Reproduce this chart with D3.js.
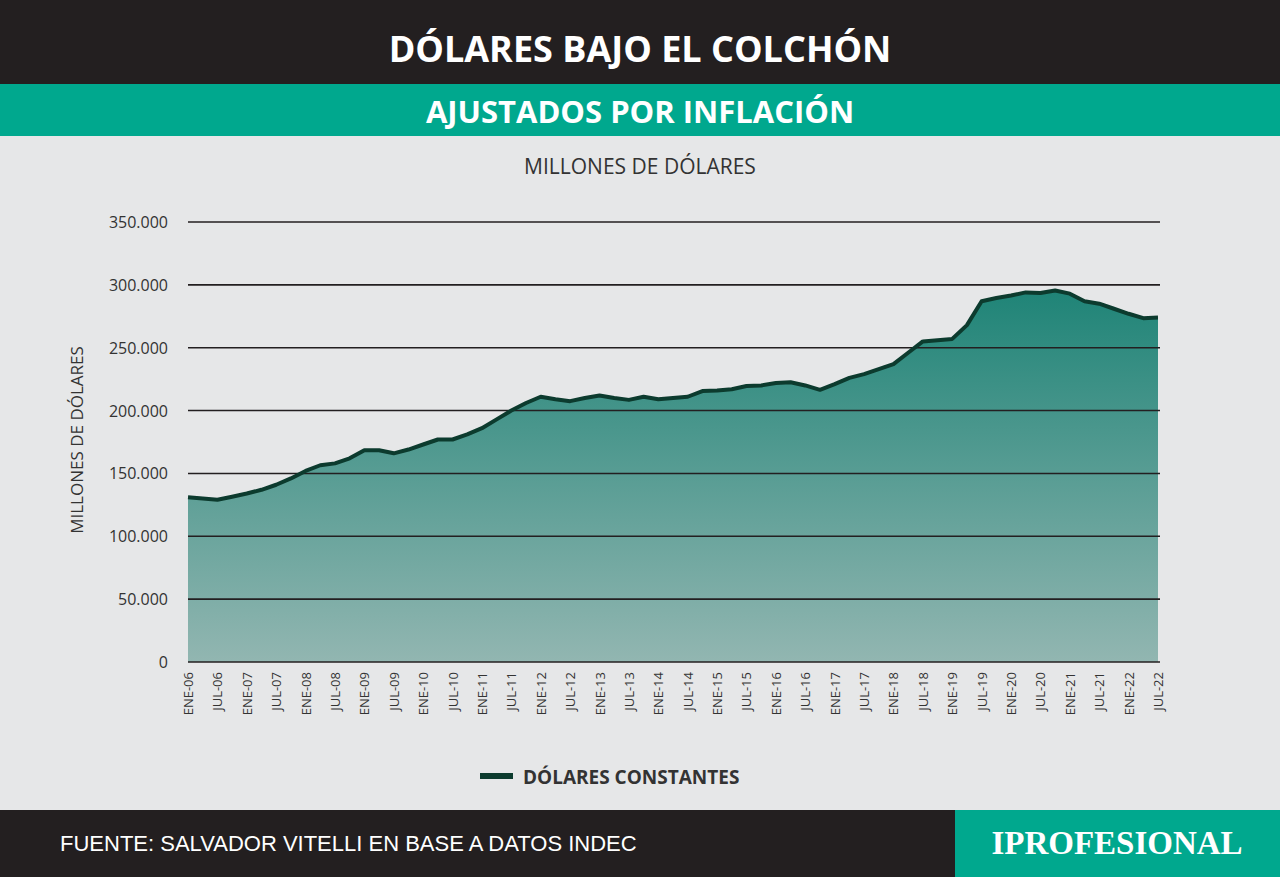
<!DOCTYPE html>
<html><head><meta charset="utf-8">
<script src="https://cdn.jsdelivr.net/npm/d3@7"></script>
<style>body{margin:0;background:#e6e7e8;font-family:"Open Sans",sans-serif}</style>
</head><body><div id="chart"></div>
<script>
var width = 1280, height = 877;
var labels = ["ENE-06","JUL-06","ENE-07","JUL-07","ENE-08","JUL-08","ENE-09","JUL-09","ENE-10","JUL-10","ENE-11","JUL-11","ENE-12","JUL-12","ENE-13","JUL-13","ENE-14","JUL-14","ENE-15","JUL-15","ENE-16","JUL-16","ENE-17","JUL-17","ENE-18","JUL-18","ENE-19","JUL-19","ENE-20","JUL-20","ENE-21","JUL-21","ENE-22","JUL-22"];
// quarterly values, thousands of millions of dollars
var values = [131,130,129,131.5,134,137,141,146,152,156.5,158,162,168.5,168.5,166,169,173,177,177,181,186,193,200,206,211,209,207.5,210,212,210,208.5,211,209,210,211,215.5,216,217,219.5,220,222,222.5,220,216.5,221,226,229,233,237,246,255,256,257,268,287,289.5,291.5,294,293.5,295.5,293,287,285,281,277,273.5,274];
var yTicks = [0,50000,100000,150000,200000,250000,300000,350000];

var svg = d3.select("#chart").append("svg").attr("width", width).attr("height", height);
svg.append("rect").attr("width", width).attr("height", height).attr("fill", "#e6e7e8");

// header
svg.append("rect").attr("width", width).attr("height", 84).attr("fill", "#231f20");
svg.append("text").attr("x", 640).attr("y", 62).attr("text-anchor", "middle").attr("fill", "#fff")
  .style("font-size", "36px").style("font-weight", "bold").text("DÓLARES BAJO EL COLCHÓN");
svg.append("rect").attr("y", 84).attr("width", width).attr("height", 52).attr("fill", "#00a88e");
svg.append("text").attr("x", 640).attr("y", 123).attr("text-anchor", "middle").attr("fill", "#fff")
  .style("font-size", "31px").style("font-weight", "bold").text("AJUSTADOS POR INFLACIÓN");
svg.append("text").attr("x", 640).attr("y", 174).attr("text-anchor", "middle").attr("fill", "#333")
  .style("font-size", "21px").text("MILLONES DE DÓLARES");

var x = d3.scaleLinear().domain([0, values.length - 1]).range([188, 1158]);
var xl = d3.scaleLinear().domain([0, labels.length - 1]).range([188, 1158]);
var y = d3.scaleLinear().domain([0, 350000]).range([662, 222]);

var defs = svg.append("defs");
var grad = defs.append("linearGradient").attr("id", "g").attr("x1", 0).attr("x2", 0).attr("y1", 0).attr("y2", 1);
grad.append("stop").attr("offset", "0%").attr("stop-color", "#1f8477");
grad.append("stop").attr("offset", "100%").attr("stop-color", "#92b6b1");

var area = d3.area().x(function(d, i) { return x(i); }).y0(y(0)).y1(function(d) { return y(d * 1000); });
svg.append("path").datum(values).attr("d", area).attr("fill", "url(#g)");

// grid
svg.selectAll(".grid").data(yTicks).enter().append("line")
  .attr("x1", 188).attr("x2", 1160)
  .attr("y1", function(d) { return y(d); }).attr("y2", function(d) { return y(d); })
  .attr("stroke", "#231f20").attr("stroke-width", 1.6);
svg.selectAll(".yl").data(yTicks).enter().append("text")
  .attr("x", 168).attr("y", function(d) { return y(d) + 6; }).attr("text-anchor", "end")
  .attr("fill", "#333").style("font-size", "16px")
  .text(function(d) { return d === 0 ? "0" : d3.format(",")(d).replace(/,/g, "."); });

var line = d3.line().x(function(d, i) { return x(i); }).y(function(d) { return y(d * 1000); });
svg.append("path").datum(values).attr("d", line).attr("fill", "none")
  .attr("stroke", "#0c3b2e").attr("stroke-width", 4).attr("stroke-linejoin", "round");

svg.selectAll(".xl").data(labels).enter().append("text")
  .attr("transform", function(d, i) { return "translate(" + (xl(i) + 5) + ",672) rotate(-90)"; })
  .attr("text-anchor", "end").attr("fill", "#333").style("font-size", "13px")
  .text(function(d) { return d; });

svg.append("text").attr("transform", "translate(83,440) rotate(-90)").attr("text-anchor", "middle")
  .attr("fill", "#333").style("font-size", "17px").text("MILLONES DE DÓLARES");

// legend
svg.append("line").attr("x1", 480).attr("x2", 513).attr("y1", 776).attr("y2", 776)
  .attr("stroke", "#0c3b2e").attr("stroke-width", 6);
svg.append("text").attr("x", 523).attr("y", 784).attr("fill", "#333")
  .style("font-size", "19px").style("font-weight", "bold").text("DÓLARES CONSTANTES");

// footer
svg.append("rect").attr("y", 810).attr("width", 955).attr("height", 67).attr("fill", "#231f20");
svg.append("rect").attr("x", 955).attr("y", 810).attr("width", 325).attr("height", 67).attr("fill", "#00a88e");
svg.append("text").attr("x", 60).attr("y", 851).attr("fill", "#fff")
  .style("font-family", "Liberation Sans, Arial, sans-serif").style("font-size", "22px")
  .text("FUENTE: SALVADOR VITELLI EN BASE A DATOS INDEC");
svg.append("text").attr("x", 1117).attr("y", 854).attr("text-anchor", "middle").attr("fill", "#fff")
  .style("font-family", "Liberation Serif, serif").style("font-size", "33px").style("font-weight", "bold")
  .text("IPROFESIONAL");
</script></body></html>
